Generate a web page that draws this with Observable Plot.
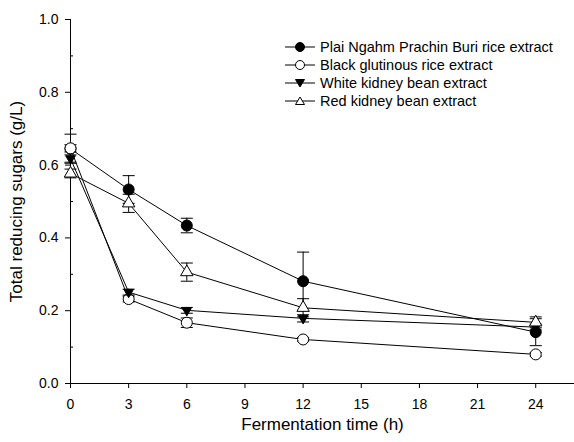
<!DOCTYPE html>
<html>
<head>
<meta charset="utf-8">
<script src="https://cdn.jsdelivr.net/npm/d3@7"></script>
<script src="https://cdn.jsdelivr.net/npm/@observablehq/plot@0.6"></script>
<style>
  html, body { margin: 0; padding: 0; background: #fff; }
  #wrap { position: relative; width: 574px; height: 442px; font-family: "Liberation Sans", Arial, sans-serif; }
  #legend { position: absolute; left: 285px; top: 38px; font-size: 14.5px; color: #000; }
  #legend .row { height: 18px; display: flex; align-items: center; white-space: nowrap; }
  #legend svg { margin-right: 5px; }
</style>
</head>
<body>
<div id="wrap"></div>
<script>
// ---- data ----
const hours = [0, 3, 6, 12, 24];
const seriesNames = [
  "Plai Ngahm Prachin Buri rice extract",
  "Black glutinous rice extract",
  "White kidney bean extract",
  "Red kidney bean extract"
];
const plai     = [0.645, 0.533, 0.434, 0.281, 0.141];
const plaiErr  = [0.040, 0.038, 0.020, 0.080, 0.037];
const black    = [0.646, 0.232, 0.167, 0.121, 0.080];
const blackErr = [0.010, 0.008, 0.013, 0.005, 0.005];
const white    = [0.618, 0.251, 0.201, 0.179, 0.155];
const whiteErr = [0.010, 0.008, 0.008, 0.010, 0.008];
const red      = [0.577, 0.495, 0.306, 0.208, 0.168];
const redErr   = [0.012, 0.025, 0.025, 0.025, 0.015];
const xTicks = [0, 3, 6, 9, 12, 15, 18, 21, 24];
const yTicks = [0, 0.2, 0.4, 0.6, 0.8, 1.0];
const yMinorTicks = [0.1, 0.3, 0.5, 0.7, 0.9];

// series styles (symbol, fill)
const styles = [
  {symbol: "circle", fill: "black", rotate: 0, r: 5.5},
  {symbol: "circle", fill: "white", rotate: 0, r: 5.5},
  {symbol: "triangle2", fill: "black", rotate: 180, r: 4.6},
  {symbol: "triangle", fill: "white", rotate: 0, r: 4.6}
];
const values = [plai, black, white, red];
const errs = [plaiErr, blackErr, whiteErr, redErr];

const rows = [];
values.forEach((vals, s) => {
  vals.forEach((v, i) => rows.push({series: s, x: hours[i], y: v, e: errs[s][i]}));
});

const capSymbol = {
  draw(context, size) {
    const w = Math.sqrt(size);
    context.moveTo(-w, 0);
    context.lineTo(w, 0);
  }
};

const marks = [
  Plot.ruleY([0], {stroke: "black", strokeWidth: 1}),
  Plot.ruleX([0], {stroke: "black", strokeWidth: 1}),
  Plot.axisX({ticks: xTicks, tickSize: 5, tickPadding: 11, fontSize: 14, label: null}),
  Plot.axisX({ticks: [], label: "Fermentation time (h)", labelAnchor: "center", labelOffset: 46, fontSize: 17, labelArrow: "none"}),
  Plot.axisY({ticks: yTicks, tickSize: 5, tickPadding: 7, tickFormat: d3.format(".1f"), fontSize: 14, label: null}),
  Plot.axisY({ticks: yMinorTicks, tickSize: -3, tickFormat: () => "", label: null}),
  Plot.axisY({ticks: [], label: "Total reducing sugars (g/L)", labelAnchor: "center", labelOffset: 61, fontSize: 17, labelArrow: "none"})
];

values.forEach((vals, s) => {
  const d = rows.filter(r => r.series === s);
  const st = styles[s];
  marks.push(
    Plot.line(d, {x: "x", y: "y", stroke: "black", strokeWidth: 1}),
    Plot.ruleX(d, {x: "x", y1: r => r.y - r.e, y2: r => r.y + r.e, stroke: "black", strokeWidth: 1}),
    Plot.dot(d, {x: "x", y: r => r.y + r.e, symbol: capSymbol, r: 3.4, stroke: "black", strokeWidth: 1}),
    Plot.dot(d, {x: "x", y: r => r.y - r.e, symbol: capSymbol, r: 3.4, stroke: "black", strokeWidth: 1}),
    Plot.dot(d, {x: "x", y: "y", symbol: st.symbol, rotate: st.rotate, r: st.r, fill: st.fill, stroke: "black", strokeWidth: 1})
  );
});

const chart = Plot.plot({
  width: 574,
  height: 442,
  marginLeft: 70,
  marginRight: 0,
  marginTop: 19,
  marginBottom: 59,
  style: {fontFamily: "'Liberation Sans', Arial, sans-serif", background: "white", color: "black"},
  x: {domain: [0, 26]},
  y: {domain: [0, 1]},
  marks
});
document.getElementById("wrap").appendChild(chart);

// legend
const legend = document.createElement("div");
legend.id = "legend";
const legendSymbols = [
  '<circle cx="15" cy="7" r="4.5" fill="black" stroke="black"/>',
  '<circle cx="15" cy="7" r="4.5" fill="white" stroke="black"/>',
  '<path d="M10.5,3.5 L19.5,3.5 L15,11 Z" fill="black" stroke="black"/>',
  '<path d="M10.5,10.5 L19.5,10.5 L15,3 Z" fill="white" stroke="black"/>'
];
seriesNames.forEach((name, i) => {
  const row = document.createElement("div");
  row.className = "row";
  row.innerHTML = `<svg width="30" height="14"><line x1="0" x2="30" y1="7" y2="7" stroke="black"/>${legendSymbols[i]}</svg><span>${name}</span>`;
  legend.appendChild(row);
});
document.getElementById("wrap").appendChild(legend);
</script>
</body>
</html>
